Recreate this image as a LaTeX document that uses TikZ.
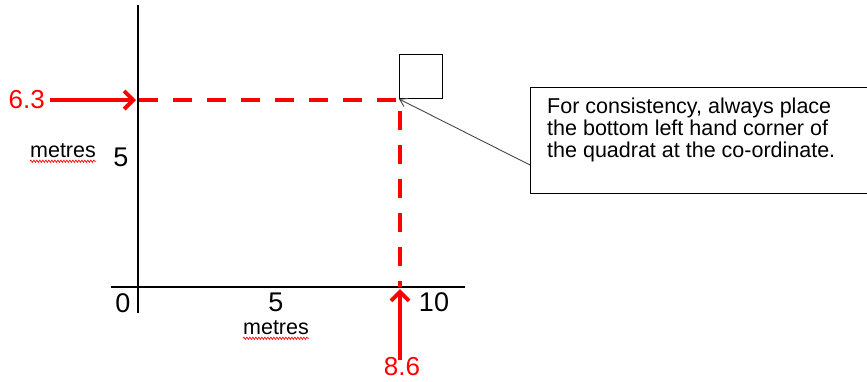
\documentclass[tikz,border=0pt]{standalone}
\usepackage{fontspec}
\setmainfont{Liberation Sans}
\usetikzlibrary{arrows.meta,decorations.pathmorphing}
\definecolor{myred}{RGB}{255,0,0}
\definecolor{callgray}{RGB}{70,70,70}
\begin{document}
\begin{tikzpicture}[x=1pt,y=-1pt,
  axis/.style={line width=1.1pt,black},
  redarrow/.style={myred,line width=4pt,-{Straight Barb[length=9pt,width=18pt]}},
  reddash/.style={myred,line width=4pt,dash pattern=on 19pt off 15pt},
  num/.style={font=\fontsize{27}{30}\selectfont,inner sep=0pt},
  rednum/.style={font=\fontsize{26}{30}\selectfont,text=myred,inner sep=0pt},
  unit/.style={font=\fontsize{21.5}{24}\selectfont,inner sep=0pt},
  wavy/.style={myred,line width=0.7pt,decorate,decoration={snake,amplitude=1.1pt,segment length=3pt}},
  callout/.style={draw,line width=1.1pt,minimum width=345pt,minimum height=106pt,anchor=north west,inner sep=0pt},
  quad/.style={draw,line width=1.1pt,minimum width=43pt,minimum height=44pt,anchor=south west,inner sep=0pt}]
\useasboundingbox (0,0) rectangle (867,381);
% axes
\coordinate (ytop) at (138,5);
\coordinate (ybot) at (138,313);
\coordinate (xl) at (111,287);
\coordinate (xr) at (465,287);
\draw[axis] (ytop) -- (ybot);
\draw[axis] (xl) -- (xr);
% labels
\node[num] (x0) at (123,303) {0};
\node[num] (x5) at (276,302) {5};
\node[num] (x10) at (434,302) {10};
\node[unit] (xm) at (276,328) {metres};
\draw[wavy] ([yshift=-3pt]xm.south west) -- ([yshift=-3pt]xm.south east);
\node[num] (y5) at (121,157) {5};
\node[unit] (ym) at (63,151) {metres};
\draw[wavy] ([yshift=-3pt]ym.south west) -- ([yshift=-3pt]ym.south east);
% red markers
\node[rednum,anchor=east] (n63) at (45,100) {6.3};
\coordinate (a63) at (136,100);
\draw[redarrow] (n63.east) ++(5,0) -- (a63);
\node[rednum] (n86) at (402,367) {8.6};
\coordinate (a86) at (400,289);
\draw[redarrow] ([yshift=-2pt]n86.north -| a86) -- (a86);
\coordinate (d1) at (139,100);
\coordinate (dc) at (400,100);
\coordinate (d2) at (400,287);
\draw[reddash] (d1) -- (dc) -- (d2);
% quadrat
\node[quad] (q) at (399,99) {};
% callout
\node[callout] (box) at (530,87) {};
\node[anchor=north west,inner sep=0pt,align=left,font=\fontsize{21.5}{22}\selectfont] (txt) at (547,98)
  {For consistency, always place\\the bottom left hand corner of\\the quadrat at the co-ordinate.};
\coordinate (bl) at (530,165);
\draw[callgray,line width=0.9pt,-{Straight Barb[length=7pt,width=9pt]}] (bl) -- (q.south west);
\end{tikzpicture}
\end{document}
